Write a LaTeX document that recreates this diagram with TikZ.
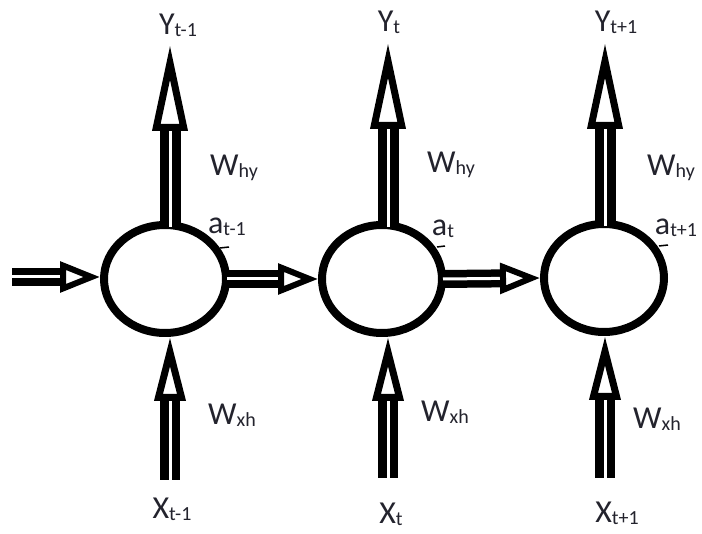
\documentclass[tikz,border=0pt]{standalone}
\usepackage{fontspec}
\setmainfont{Carlito}
\usetikzlibrary{arrows.meta,calc}
\definecolor{inkc}{RGB}{35,35,45}
\newcommand{\lowsub}[1]{\raisebox{-2pt}{\fontsize{20}{21}\selectfont #1}}
\tikzset{
  ring/.style={draw, line width=8pt},
  lbl/.style={font=\fontsize{32}{34}\selectfont, text=inkc, inner sep=0pt},
  hollow/.style={draw, double=white, double distance=3pt, line width=9pt},
  uparr/.style={hollow, -{Triangle[open, length=86pt, width=34pt, line width=7pt]}},
  inarr/.style={hollow, line width=8.5pt, -{Triangle[open, length=64pt, width=30pt, line width=7pt]}},
  sidearr/.style={hollow, line width=7.5pt, -{Triangle[open, length=40pt, width=30pt, line width=6pt]}},
  tick/.style={draw, line width=1.5pt}
}
\begin{document}
\begin{tikzpicture}[x=1pt,y=-1pt]
  \useasboundingbox (0,0) rectangle (702,534);

  % the three cells
  \coordinate (c1) at (165,279);
  \coordinate (c2) at (382,279);
  \coordinate (c3) at (604,278);
  \draw[ring] (c1) ellipse [x radius=61, y radius=54];
  \draw[ring] (c2) ellipse [x radius=60, y radius=54];
  \draw[ring] (c3) ellipse [x radius=60, y radius=54];
  \coordinate (c1w) at ($(c1)+(-65,-2)$);
  \coordinate (c1e) at ($(c1)+(62,0)$);
  \coordinate (c2w) at ($(c2)+(-64,0)$);
  \coordinate (c2e) at ($(c2)+(61,0)$);
  \coordinate (c3w) at ($(c3)+(-64,0)$);

  % outputs
  \node[lbl] (y1) at (178,25) {Y\lowsub{t-1}};
  \node[lbl] (y2) at (389,22) {Y\lowsub{t}};
  \node[lbl] (y3) at (616,22) {Y\lowsub{t+1}};
  \coordinate (y1tip) at (170,45);
  \coordinate (y2tip) at (388,43);
  \coordinate (y3tip) at (605,43);
  \draw[uparr] ($(c1)+(5,-52)$) -- (y1tip);
  \draw[uparr] ($(c2)+(6,-52)$) -- (y2tip);
  \draw[uparr] ($(c3)+(1,-52)$) -- (y3tip);
  \node[lbl] (why1) at (234,168) {W\lowsub{hy}};
  \node[lbl] (why2) at (451,165) {W\lowsub{hy}};
  \node[lbl] (why3) at (671,168) {W\lowsub{hy}};

  % hidden states
  \node[lbl] (a1) at (227,227) {a\lowsub{t-1}};
  \node[lbl] (a2) at (443,229) {a\lowsub{t}};
  \node[lbl] (a3) at (676,228) {a\lowsub{t+1}};
  \draw[tick] ($(c1)+(55,-31)$) -- ++(9,-1);
  \draw[tick] ($(c2)+(55,-32)$) -- ++(8,-1);
  \draw[tick] ($(c3)+(55,-32)$) -- ++(9,-1);

  % recurrent links
  \coordinate (in0) at (12,277);
  \draw[sidearr] (in0) -- (c1w);
  \draw[sidearr] (c1e) -- (c2w);
  \draw[sidearr] (c2e) -- (c3w);

  % inputs
  \coordinate (x1foot) at (170,480);
  \coordinate (x2foot) at (388,478);
  \coordinate (x3foot) at (605,478);
  \draw[inarr] (x1foot) -- ($(c1)+(5,58)$);
  \draw[inarr] (x2foot) -- ($(c2)+(6,58)$);
  \draw[inarr] (x3foot) -- ($(c3)+(1,58)$);
  \node[lbl] (wxh1) at (232,415) {W\lowsub{xh}};
  \node[lbl] (wxh2) at (445,412) {W\lowsub{xh}};
  \node[lbl] (wxh3) at (657,419) {W\lowsub{xh}};
  \node[lbl] (x1) at (172,509) {X\lowsub{t-1}};
  \node[lbl] (x2) at (391,514) {X\lowsub{t}};
  \node[lbl] (x3) at (617,513) {X\lowsub{t+1}};
\end{tikzpicture}
\end{document}
